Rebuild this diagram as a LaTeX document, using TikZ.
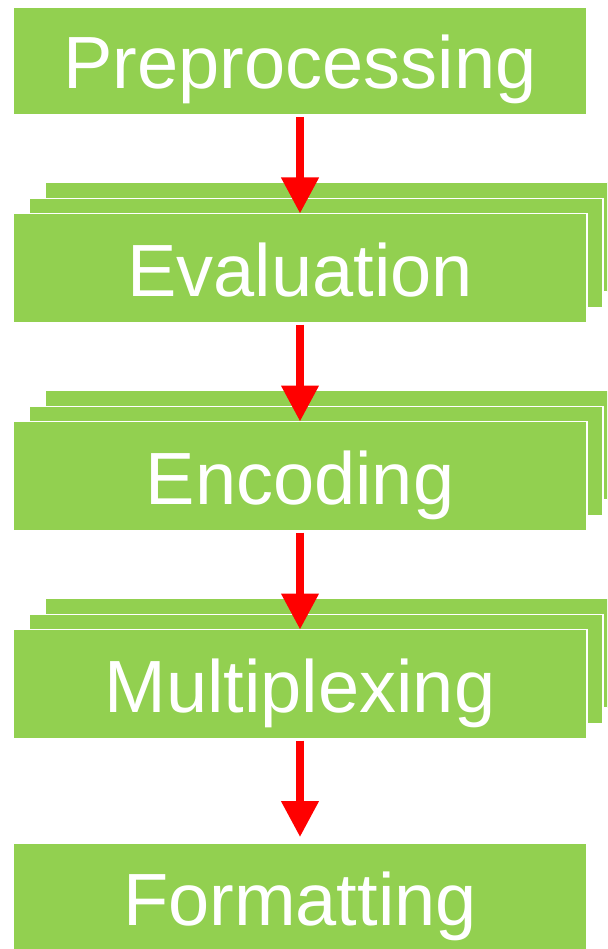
\documentclass[tikz,border=0pt]{standalone}
\usepackage{fontspec}
\setmainfont{Liberation Sans}
\usetikzlibrary{arrows.meta}
\definecolor{boxgreen}{HTML}{92D050}
\definecolor{arrred}{HTML}{FF0000}
\begin{document}
\begin{tikzpicture}[x=1pt,y=-1pt,
  box/.style={rectangle, fill=boxgreen, draw=white, line width=1.5pt, outer sep=0pt, inner sep=0pt,
    minimum width=574pt, minimum height=109pt, text=white,
    font=\fontsize{74}{80}\selectfont, text height=56pt, text depth=0pt},
  arr/.style={draw=arrred, line width=7.5pt, -{Triangle[width=36pt,length=36pt]}}]
\useasboundingbox (0,0) rectangle (607,949);
\clip (0,0) rectangle (607,949);
\fill[white] (0,0) rectangle (607,949);
% Preprocessing
\node[box, minimum height=108pt] (pre) at (300,61) {Preprocessing};
% Evaluation stack
\node[box] (ev3) at (332,237) {};
\node[box] (ev2) at (316,253) {};
\node[box] (ev1) at (300,268) {Evaluation};
% Encoding stack
\node[box] (en3) at (332,445) {};
\node[box] (en2) at (316,461) {};
\node[box] (en1) at (300,476) {Encoding};
% Multiplexing stack
\node[box] (mu3) at (332,653) {};
\node[box] (mu2) at (316,669) {};
\node[box] (mu1) at (300,684) {Multiplexing};
% Formatting
\node[box, minimum height=108pt] (fmt) at (300,897) {Formatting};
% arrows
\draw[arr] ([yshift=-2pt]pre.south) -- (ev1.north);
\draw[arr] ([yshift=-2pt]ev1.south) -- (en1.north);
\draw[arr] ([yshift=-2pt]en1.south) -- (mu1.north);
\draw[arr] ([yshift=-2pt]mu1.south) -- ([yshift=6pt]fmt.north);
\end{tikzpicture}
\end{document}
